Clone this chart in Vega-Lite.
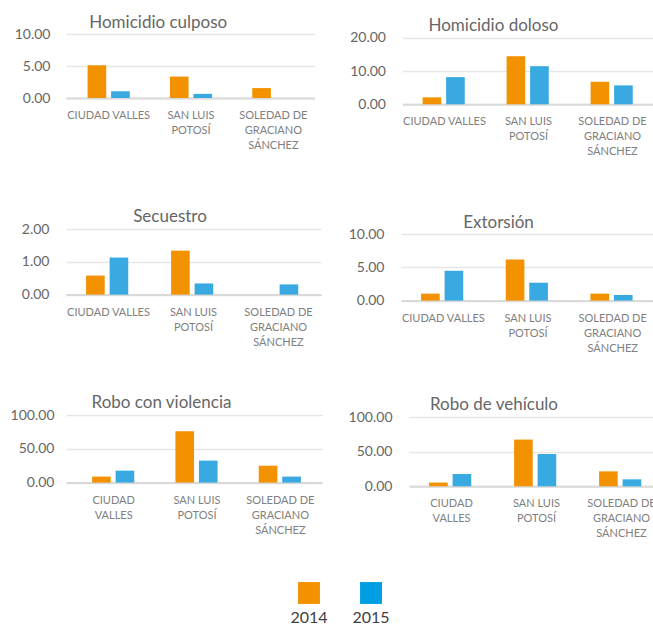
{
  "$schema": "https://vega.github.io/schema/vega-lite/v6.json",
  "padding": {"left": 5, "top": 14, "right": 0, "bottom": 0},
  "background": "#ffffff",
  "datasets": {
    "d": [
      {"crime": "Homicidio culposo", "city": "CIUDAD VALLES", "year": "2014", "value": 5.1},
      {"crime": "Homicidio culposo", "city": "CIUDAD VALLES", "year": "2015", "value": 1.05},
      {"crime": "Homicidio culposo", "city": "SAN LUIS POTOSÍ", "year": "2014", "value": 3.35},
      {"crime": "Homicidio culposo", "city": "SAN LUIS POTOSÍ", "year": "2015", "value": 0.65},
      {"crime": "Homicidio culposo", "city": "SOLEDAD DE GRACIANO SÁNCHEZ", "year": "2014", "value": 1.55},
      {"crime": "Homicidio culposo", "city": "SOLEDAD DE GRACIANO SÁNCHEZ", "year": "2015", "value": 0},
      {"crime": "Homicidio doloso", "city": "CIUDAD VALLES", "year": "2014", "value": 2.1},
      {"crime": "Homicidio doloso", "city": "CIUDAD VALLES", "year": "2015", "value": 8.2},
      {"crime": "Homicidio doloso", "city": "SAN LUIS POTOSÍ", "year": "2014", "value": 14.5},
      {"crime": "Homicidio doloso", "city": "SAN LUIS POTOSÍ", "year": "2015", "value": 11.5},
      {"crime": "Homicidio doloso", "city": "SOLEDAD DE GRACIANO SÁNCHEZ", "year": "2014", "value": 6.8},
      {"crime": "Homicidio doloso", "city": "SOLEDAD DE GRACIANO SÁNCHEZ", "year": "2015", "value": 5.7},
      {"crime": "Secuestro", "city": "CIUDAD VALLES", "year": "2014", "value": 0.58},
      {"crime": "Secuestro", "city": "CIUDAD VALLES", "year": "2015", "value": 1.13},
      {"crime": "Secuestro", "city": "SAN LUIS POTOSÍ", "year": "2014", "value": 1.34},
      {"crime": "Secuestro", "city": "SAN LUIS POTOSÍ", "year": "2015", "value": 0.34},
      {"crime": "Secuestro", "city": "SOLEDAD DE GRACIANO SÁNCHEZ", "year": "2014", "value": 0},
      {"crime": "Secuestro", "city": "SOLEDAD DE GRACIANO SÁNCHEZ", "year": "2015", "value": 0.31},
      {"crime": "Extorsión", "city": "CIUDAD VALLES", "year": "2014", "value": 1.05},
      {"crime": "Extorsión", "city": "CIUDAD VALLES", "year": "2015", "value": 4.5},
      {"crime": "Extorsión", "city": "SAN LUIS POTOSÍ", "year": "2014", "value": 6.2},
      {"crime": "Extorsión", "city": "SAN LUIS POTOSÍ", "year": "2015", "value": 2.7},
      {"crime": "Extorsión", "city": "SOLEDAD DE GRACIANO SÁNCHEZ", "year": "2014", "value": 1.05},
      {"crime": "Extorsión", "city": "SOLEDAD DE GRACIANO SÁNCHEZ", "year": "2015", "value": 0.85},
      {"crime": "Robo con violencia", "city": "CIUDAD VALLES", "year": "2014", "value": 8.9},
      {"crime": "Robo con violencia", "city": "CIUDAD VALLES", "year": "2015", "value": 17.7},
      {"crime": "Robo con violencia", "city": "SAN LUIS POTOSÍ", "year": "2014", "value": 76},
      {"crime": "Robo con violencia", "city": "SAN LUIS POTOSÍ", "year": "2015", "value": 32.5},
      {"crime": "Robo con violencia", "city": "SOLEDAD DE GRACIANO SÁNCHEZ", "year": "2014", "value": 25},
      {"crime": "Robo con violencia", "city": "SOLEDAD DE GRACIANO SÁNCHEZ", "year": "2015", "value": 8.9},
      {"crime": "Robo de vehículo", "city": "CIUDAD VALLES", "year": "2014", "value": 5.4},
      {"crime": "Robo de vehículo", "city": "CIUDAD VALLES", "year": "2015", "value": 17.8},
      {"crime": "Robo de vehículo", "city": "SAN LUIS POTOSÍ", "year": "2014", "value": 67.7},
      {"crime": "Robo de vehículo", "city": "SAN LUIS POTOSÍ", "year": "2015", "value": 46.8},
      {"crime": "Robo de vehículo", "city": "SOLEDAD DE GRACIANO SÁNCHEZ", "year": "2014", "value": 21.7},
      {"crime": "Robo de vehículo", "city": "SOLEDAD DE GRACIANO SÁNCHEZ", "year": "2015", "value": 10.1}
    ],
    "leg": [
      {"year": "2014"},
      {"year": "2015"}
    ]
  },
  "vconcat": [
    {
      "vconcat": [
        {
          "vconcat": [
            {
              "hconcat": [
                {
                  "data": {"name": "d"},
                  "width": 248.5, "height": 64,
                  "title": {"text": "Homicidio culposo", "dx": -32, "offset": -5},
                  "transform": [{"filter": "datum.crime === 'Homicidio culposo'"}],
                  "mark": "bar",
                  "encoding": {
                    "x": {"field": "city", "type": "nominal", "sort": null, "title": null, "scale": {"paddingInner": 0, "paddingOuter": 0.0091, "align": 1},
                      "axis": {"labelExpr": "datum.value == 'SAN LUIS POTOSÍ' ? ['SAN LUIS', 'POTOSÍ'] : datum.value == 'SOLEDAD DE GRACIANO SÁNCHEZ' ? ['SOLEDAD DE', 'GRACIANO', 'SÁNCHEZ'] : datum.value"}},
                    "xOffset": {"field": "year", "type": "nominal", "scale": {"paddingInner": 0.208, "paddingOuter": 0.854}},
                    "y": {"field": "value", "type": "quantitative", "title": null, "scale": {"domain": [0, 10], "nice": false}, "axis": {"values": [0, 5, 10], "minExtent": 61, "labelPadding": 16}},
                    "color": {"field": "year", "type": "nominal", "scale": {"domain": ["2014", "2015"], "range": ["#F39200", "#38A9E1"]}, "legend": null}
                  }
                },
                {
                  "data": {"name": "d"},
                  "width": 252, "height": 70.3,
                  "title": {"text": "Homicidio doloso", "dx": -35, "offset": -4},
                  "transform": [{"filter": "datum.crime === 'Homicidio doloso'"}],
                  "mark": "bar",
                  "encoding": {
                    "x": {"field": "city", "type": "nominal", "sort": null, "title": null, "scale": {"paddingInner": 0, "paddingOuter": 0},
                      "axis": {"labelExpr": "datum.value == 'SAN LUIS POTOSÍ' ? ['SAN LUIS', 'POTOSÍ'] : datum.value == 'SOLEDAD DE GRACIANO SÁNCHEZ' ? ['SOLEDAD DE', 'GRACIANO', 'SÁNCHEZ'] : datum.value"}},
                    "xOffset": {"field": "year", "type": "nominal", "scale": {"paddingInner": 0.208, "paddingOuter": 0.854}},
                    "y": {"field": "value", "type": "quantitative", "title": null, "scale": {"domain": [0, 21.2], "nice": false}, "axis": {"values": [0, 10, 20], "minExtent": 62}},
                    "color": {"field": "year", "type": "nominal", "scale": {"domain": ["2014", "2015"], "range": ["#F39200", "#38A9E1"]}, "legend": null}
                  }
                }
              ],
              "spacing": 25.5
            },
            {
              "hconcat": [
                {
                  "data": {"name": "d"},
                  "width": 255, "height": 65.6,
                  "title": {"text": "Secuestro", "dx": -23.5, "offset": -4.3},
                  "transform": [{"filter": "datum.crime === 'Secuestro'"}],
                  "mark": "bar",
                  "encoding": {
                    "x": {"field": "city", "type": "nominal", "sort": null, "title": null, "scale": {"paddingInner": 0, "paddingOuter": 0},
                      "axis": {"labelExpr": "datum.value == 'SAN LUIS POTOSÍ' ? ['SAN LUIS', 'POTOSÍ'] : datum.value == 'SOLEDAD DE GRACIANO SÁNCHEZ' ? ['SOLEDAD DE', 'GRACIANO', 'SÁNCHEZ'] : datum.value"}},
                    "xOffset": {"field": "year", "type": "nominal", "scale": {"paddingInner": 0.208, "paddingOuter": 0.854}},
                    "y": {"field": "value", "type": "quantitative", "title": null, "scale": {"domain": [0, 2], "nice": false}, "axis": {"values": [0, 1, 2], "minExtent": 61}},
                    "color": {"field": "year", "type": "nominal", "scale": {"domain": ["2014", "2015"], "range": ["#F39200", "#38A9E1"]}, "legend": null}
                  }
                },
                {
                  "data": {"name": "d"},
                  "width": 254, "height": 71.6,
                  "title": {"text": "Extorsión", "dx": -29.5, "offset": -4.6},
                  "transform": [{"filter": "datum.crime === 'Extorsión'"}],
                  "mark": "bar",
                  "encoding": {
                    "x": {"field": "city", "type": "nominal", "sort": null, "title": null, "scale": {"paddingInner": 0, "paddingOuter": 0},
                      "axis": {"labelExpr": "datum.value == 'SAN LUIS POTOSÍ' ? ['SAN LUIS', 'POTOSÍ'] : datum.value == 'SOLEDAD DE GRACIANO SÁNCHEZ' ? ['SOLEDAD DE', 'GRACIANO', 'SÁNCHEZ'] : datum.value"}},
                    "xOffset": {"field": "year", "type": "nominal", "scale": {"paddingInner": 0.208, "paddingOuter": 0.854}},
                    "y": {"field": "value", "type": "quantitative", "title": null, "scale": {"domain": [0, 10.8], "nice": false}, "axis": {"values": [0, 5, 10], "minExtent": 62}},
                    "color": {"field": "year", "type": "nominal", "scale": {"domain": ["2014", "2015"], "range": ["#F39200", "#38A9E1"]}, "legend": null}
                  }
                }
              ],
              "spacing": 18
            }
          ],
          "spacing": 51
        },
        {
          "hconcat": [
            {
              "data": {"name": "d"},
              "width": 256, "height": 67.6,
              "title": {"text": "Robo con violencia", "dx": -32.5, "offset": -3.6},
              "transform": [{"filter": "datum.crime === 'Robo con violencia'"}],
              "mark": "bar",
              "encoding": {
                "x": {"field": "city", "type": "nominal", "sort": null, "title": null, "scale": {"paddingInner": 0, "paddingOuter": 0.036, "align": 1},
                  "axis": {"labelExpr": "datum.value == 'CIUDAD VALLES' ? ['CIUDAD', 'VALLES'] : datum.value == 'SAN LUIS POTOSÍ' ? ['SAN LUIS', 'POTOSÍ'] : ['SOLEDAD DE', 'GRACIANO', 'SÁNCHEZ']"}},
                "xOffset": {"field": "year", "type": "nominal", "scale": {"paddingInner": 0.208, "paddingOuter": 0.854}},
                "y": {"field": "value", "type": "quantitative", "title": null, "scale": {"domain": [0, 100], "nice": false}, "axis": {"values": [0, 50, 100], "minExtent": 61, "labelPadding": 12}},
                "color": {"field": "year", "type": "nominal", "scale": {"domain": ["2014", "2015"], "range": ["#F39200", "#38A9E1"]}, "legend": null}
              }
            },
            {
              "data": {"name": "d"},
              "width": 255, "height": 71.3,
              "title": {"text": "Robo de vehículo", "dx": -42.5, "offset": -3.7},
              "transform": [{"filter": "datum.crime === 'Robo de vehículo'"}],
              "mark": "bar",
              "encoding": {
                "x": {"field": "city", "type": "nominal", "sort": null, "title": null, "scale": {"paddingInner": 0, "paddingOuter": 0},
                  "axis": {"labelExpr": "datum.value == 'CIUDAD VALLES' ? ['CIUDAD', 'VALLES'] : datum.value == 'SAN LUIS POTOSÍ' ? ['SAN LUIS', 'POTOSÍ'] : ['SOLEDAD DE', 'GRACIANO', 'SÁNCHEZ']"}},
                "xOffset": {"field": "year", "type": "nominal", "scale": {"paddingInner": 0.208, "paddingOuter": 0.854}},
                "y": {"field": "value", "type": "quantitative", "title": null, "scale": {"domain": [0, 103.3], "nice": false}, "axis": {"values": [0, 50, 100], "minExtent": 62}},
                "color": {"field": "year", "type": "nominal", "scale": {"domain": ["2014", "2015"], "range": ["#F39200", "#38A9E1"]}, "legend": null}
              }
            }
          ],
          "spacing": 25
        }
      ],
      "spacing": 39
    },
    {
      "data": {"name": "leg"},
      "width": 400, "height": 40,
      "encoding": {
        "x": {"field": "year", "type": "quantitative", "title": null, "scale": {"domain": [2010.081, 2016.532], "nice": false, "zero": false}, "axis": null}
      },
      "layer": [
        {
          "mark": {"type": "point", "shape": "square", "filled": true, "size": 480, "opacity": 1},
          "encoding": {
            "color": {"field": "year", "type": "nominal", "scale": {"domain": ["2014", "2015"], "range": ["#F39200", "#009FE3"]}, "legend": null}
          }
        },
        {
          "mark": {"type": "text", "dy": 30, "fontSize": 16, "color": "#404040", "baseline": "alphabetic"},
          "encoding": {"text": {"field": "year", "type": "nominal"}}
        }
      ]
    }
  ],
  "spacing": 34,
  "resolve": {"scale": {"color": "independent"}},
  "config": {
    "font": "Lato",
    "view": {"stroke": null},
    "title": {"font": "Liberation Sans Narrow, Lato", "fontSize": 17, "fontWeight": "normal", "color": "#666666", "anchor": "middle", "frame": "group", "baseline": "alphabetic"},
    "axisY": {"domain": false, "ticks": false, "gridColor": "#e6e6e6", "gridWidth": 1.5, "labelFontSize": 14, "labelColor": "#666666", "labelPadding": 17, "format": ".2f", "labelFont": "Lato"},
    "axisX": {"domainColor": "#d9d9d9", "domainWidth": 2, "ticks": false, "grid": false, "labelFontSize": 11, "labelColor": "#808080", "labelPadding": 11.5, "labelLineHeight": 15, "labelAngle": 0, "labelFont": "Lato", "labelLimit": 0}
  }
}
